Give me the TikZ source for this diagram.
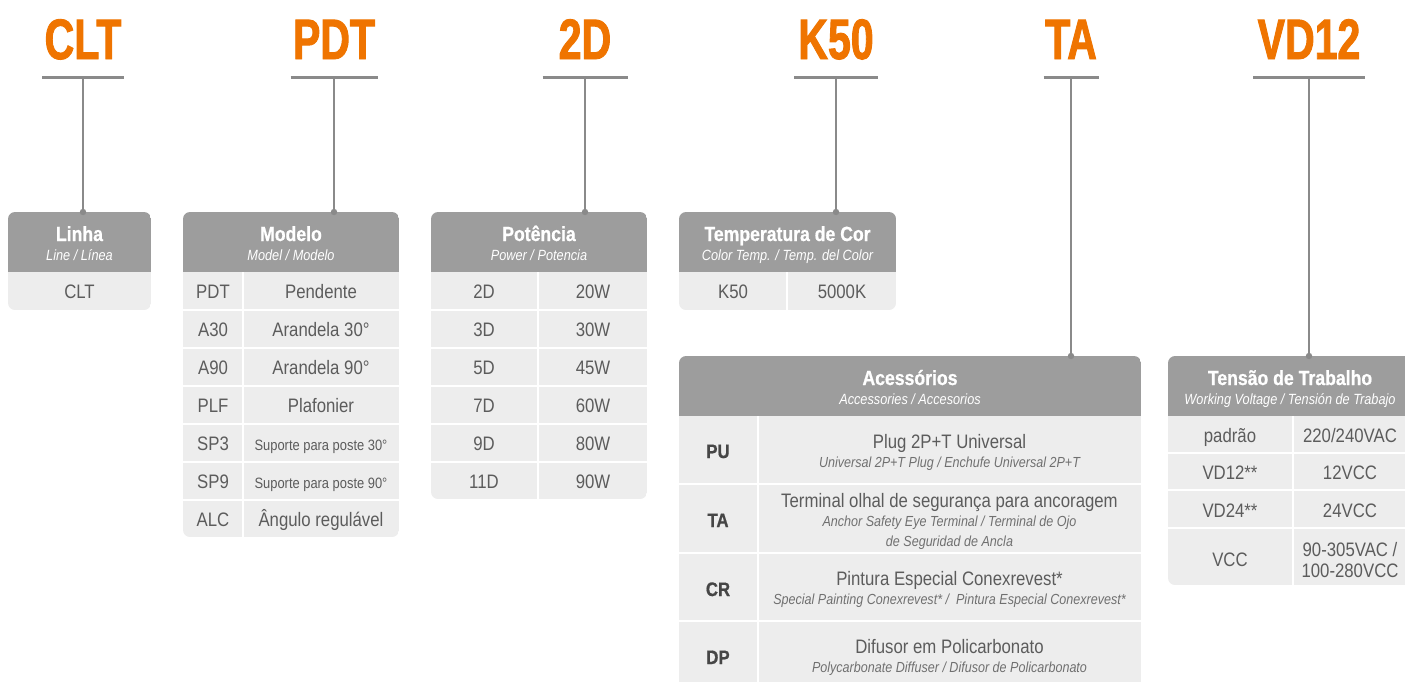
\documentclass[tikz,border=0pt]{standalone}
\usepackage{fontspec}
\setmainfont{Liberation Sans}
\newfontfamily\cnd[FakeStretch=0.86, BoldFeatures={FakeBold=0.8}]{Liberation Sans}
\newfontfamily\cndbig[FakeStretch=0.72, BoldFeatures={FakeBold=1.6}]{Liberation Sans}
\usetikzlibrary{positioning,calc}

\definecolor{codeorange}{RGB}{239,116,0}
\definecolor{headgray}{RGB}{157,157,157}
\definecolor{rowgray}{RGB}{237,237,237}
\definecolor{linegray}{RGB}{138,138,138}
\definecolor{textgray}{RGB}{92,92,92}
\definecolor{keygray}{RGB}{70,70,70}
\definecolor{notegray}{RGB}{112,112,112}

\tikzset{
  code/.style={font=\cndbig\bfseries\fontsize{57}{57}\selectfont, text=codeorange, inner sep=0pt, anchor=base},
  bar/.style={draw=linegray, line width=3pt},
  stem/.style={draw=linegray, line width=2pt},
  head/.style={font=\cnd\bfseries\fontsize{20.5}{22}\selectfont, text=white, inner sep=0pt, anchor=base},
  sub/.style={font=\cnd\itshape\fontsize{14.8}{16}\selectfont, text=white, inner sep=0pt, anchor=base},
  cell/.style={font=\cnd\fontsize{19.5}{21}\selectfont, text=textgray, inner sep=0pt, anchor=base},
  key/.style={font=\cnd\bfseries\fontsize{19.5}{21}\selectfont, text=keygray, inner sep=0pt, anchor=base},
  note/.style={font=\cnd\itshape\fontsize{14.6}{16}\selectfont, text=notegray, inner sep=0pt, anchor=base},
  sep/.style={draw=white, line width=2.5pt},
}

% panel: x1, top, x2, header bottom, bottom
\newcommand\specbox[5]{%
  \begin{scope}
    \clip[rounded corners=7pt] (#1,#2) rectangle (#3,#5);
    \fill[headgray] (#1,#2) rectangle (#3,#4);
    \fill[rowgray] (#1,#4) rectangle (#3,#5);
  \end{scope}}

\begin{document}
\begin{tikzpicture}[x=1pt,y=-1pt]

  \clip (0,0) rectangle (1405,681);

  % box tops where the stems land
  \coordinate (linhatop) at (83,212);
  \coordinate (modelotop) at (334,212);
  \coordinate (potenciatop) at (585,212);
  \coordinate (tempertop) at (836,212);
  \coordinate (acesstop) at (1071,356);
  \coordinate (tensaotop) at (1309,356);

  % panels
  \specbox{8}{212}{151}{272}{310}
  \specbox{183}{212}{399}{272}{537}
  \specbox{431}{212}{647}{272}{499}
  \specbox{679}{212}{896}{272}{310}
  \specbox{679}{356}{1141}{416}{690}
  \specbox{1168}{356}{1416}{416}{585}

  % order code with bar and stem
  \foreach \name/\x/\w/\target in {CLT/83/41/linhatop, PDT/334/43.5/modelotop,
      2D/585/42.5/potenciatop, K50/836/42/tempertop, TA/1071/27.5/acesstop,
      VD12/1309/56/tensaotop} {
    \node[code] (c\name) at (\x,59) {\name};
    \coordinate (b\name) at (\x,77);
    \draw[bar] ([xshift=-\w pt]b\name) -- ([xshift=\w pt]b\name);
    \draw[stem] (b\name) -- (\target);
    \fill[linegray] (\target) circle (3.2pt);
  }

  % Linha
  \node[head] (linhahead) at (79.5,241) {Linha};
  \node[sub] (linhasub) at (79.5,260) {Line / Línea};
  \node[cell] (linhaclt) at (79.5,298) {CLT};

  % Modelo
  \node[head] (modelohead) at (291,241) {Modelo};
  \node[sub] (modelosub) at (291,260) {Model / Modelo};
  \foreach \y in {310,348,...,500} \draw[sep] (183,\y) -- (399,\y);
  \draw[sep] (243,272) -- (243,537);
  \foreach \k/\v [count=\i] in {PDT/Pendente, A30/Arandela 30°, A90/Arandela 90°,
      PLF/Plafonier, SP3/{\fontsize{15}{17}\selectfont Suporte para poste 30°},
      SP9/{\fontsize{15}{17}\selectfont Suporte para poste 90°}, ALC/Ângulo regulável} {
    \node[cell] (mk\i) at (213,{260+38*\i}) {\k};
    \node[cell] (mv\i) at (321,{260+38*\i}) {\v};
  }

  % Potencia
  \node[head] (potenciahead) at (539,241) {Potência};
  \node[sub] (potenciasub) at (539,260) {Power / Potencia};
  \foreach \y in {310,348,...,470} \draw[sep] (431,\y) -- (647,\y);
  \draw[sep] (538,272) -- (538,499);
  \foreach \k/\v [count=\i] in {2D/20W, 3D/30W, 5D/45W, 7D/60W, 9D/80W, 11D/90W} {
    \node[cell] (pk\i) at (484,{260+38*\i}) {\k};
    \node[cell] (pv\i) at (593,{260+38*\i}) {\v};
  }

  % Temperatura de cor
  \node[head] (temperhead) at (787.5,241) {Temperatura de Cor};
  \node[sub] (tempersub) at (787.5,260) {Color Temp. / Temp. del Color};
  \draw[sep] (787,272) -- (787,310);
  \node[cell] (tk1) at (733,298) {K50};
  \node[cell] (tv1) at (842,298) {5000K};

  % Acessorios
  \node[head] (acesshead) at (910,385) {Acessórios};
  \node[sub] (acesssub) at (910,404) {Accessories / Accesorios};
  \foreach \y in {484,553,621} \draw[sep] (679,\y) -- (1141,\y);
  \draw[sep] (758,416) -- (758,690);
  \node[key] (akpu) at (718,458) {PU};
  \node[cell] (avpu) at (949.5,448) {Plug 2P+T Universal};
  \node[note] (anpu) at (949.5,467) {Universal 2P+T Plug / Enchufe Universal 2P+T};
  \node[key] (akta) at (718,527) {TA};
  \node[cell] (avta) at (949.5,507) {Terminal olhal de segurança para ancoragem};
  \node[note] (anta) at (949.5,526) {Anchor Safety Eye Terminal / Terminal de Ojo};
  \node[note] (anta2) at (949.5,546) {de Seguridad de Ancla};
  \node[key] (akcr) at (718,596) {CR};
  \node[cell] (avcr) at (949.5,585) {Pintura Especial Conexrevest*};
  \node[note] (ancr) at (949.5,604) {Special Painting Conexrevest* /\ \ Pintura Especial Conexrevest*};
  \node[key] (akdp) at (718,664) {DP};
  \node[cell] (avdp) at (949.5,653) {Difusor em Policarbonato};
  \node[note] (andp) at (949.5,672) {Polycarbonate Diffuser / Difusor de Policarbonato};

  % Tensao de trabalho
  \node[head] (tensaohead) at (1290,385) {Tensão de Trabalho};
  \node[sub] (tensaosub) at (1290,404) {Working Voltage / Tensión de Trabajo};
  \foreach \y in {453,490,528} \draw[sep] (1168,\y) -- (1416,\y);
  \draw[sep] (1293,416) -- (1293,585);
  \node[cell] (vk1) at (1230,442) {padrão};
  \node[cell] (vv1) at (1350,442) {220/240VAC};
  \node[cell] (vk2) at (1230,479) {VD12**};
  \node[cell] (vv2) at (1350,479) {12VCC};
  \node[cell] (vk3) at (1230,517) {VD24**};
  \node[cell] (vv3) at (1350,517) {24VCC};
  \node[cell] (vk4) at (1230,566) {VCC};
  \node[cell] (vv4) at (1350,556) {90-305VAC /};
  \node[cell] (vv5) at (1350,577) {100-280VCC};

\end{tikzpicture}
\end{document}
